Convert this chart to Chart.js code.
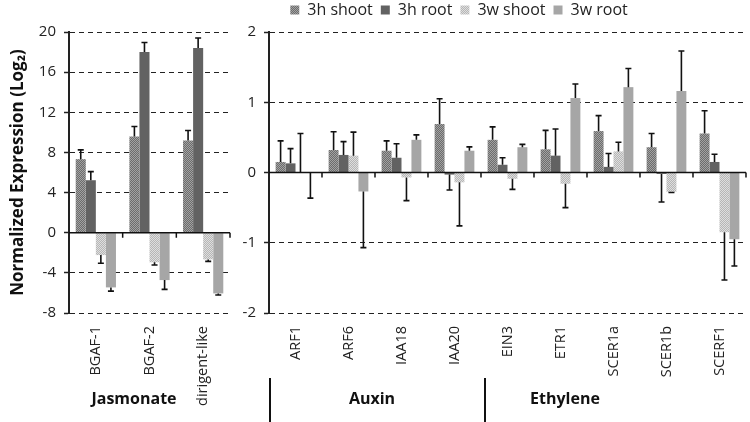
<!DOCTYPE html>
<html><head><meta charset="utf-8">
<script src="https://cdn.jsdelivr.net/npm/chart.js@4"></script>
<style>
html,body{margin:0;padding:0;background:#fff;}
#wrap{position:relative;width:750px;height:422px;overflow:hidden;font-family:'Open Sans',sans-serif;}
canvas{position:absolute;top:0;}
#cL{left:0;}
#cR{left:170px;}
.grp{position:absolute;top:398px;transform:translate(-50%,-50%);font:bold 16px 'Open Sans',sans-serif;color:#111;white-space:nowrap;}
.sep{position:absolute;width:1.5px;background:#111;top:378px;height:44px;}
</style>
</head><body>
<div id="wrap">
<canvas id="cL" width="250" height="422"></canvas>
<canvas id="cR" width="580" height="422"></canvas>
<div class="grp" style="left:134px">Jasmonate</div>
<div class="grp" style="left:372px">Auxin</div>
<div class="grp" style="left:565px">Ethylene</div>
<div class="sep" style="left:269px"></div>
<div class="sep" style="left:484px"></div>
</div>
<script>
// ---- data ----
const seriesNames = ['3h shoot', '3h root', '3w shoot', '3w root'];
const groupNames = ['Jasmonate', 'Auxin', 'Ethylene'];

const jasCats = ['BGAF-1', 'BGAF-2', 'dirigent-like'];
const jas3hShoot = [7.33, 9.58, 9.18];
const jas3hRoot  = [5.23, 18.0, 18.4];
const jas3wShoot = [-2.23, -2.95, -2.66];
const jas3wRoot  = [-5.45, -4.72, -6.05];
const jasErr3hShoot = [0.92, 1.0, 1.0];
const jasErr3hRoot  = [0.86, 0.96, 1.0];
const jasErr3wShoot = [0.82, 0.27, 0.2];
const jasErr3wRoot  = [0.37, 0.93, 0.15];
const jasTicks = [-8, -4, 0, 4, 8, 12, 16, 20];

const hormCats = ['ARF1', 'ARF6', 'IAA18', 'IAA20', 'EIN3', 'ETR1', 'SCER1a', 'SCER1b', 'SCERF1'];
const horm3hShoot = [0.15, 0.32, 0.31, 0.69, 0.465, 0.33, 0.59, 0.36, 0.555];
const horm3hRoot  = [0.13, 0.25, 0.21, -0.03, 0.11, 0.24, 0.08, -0.02, 0.15];
const horm3wShoot = [0.005, 0.24, -0.07, -0.14, -0.09, -0.16, 0.30, -0.275, -0.85];
const horm3wRoot  = [-0.005, -0.27, 0.465, 0.31, 0.36, 1.06, 1.215, 1.16, -0.95];
const hormErr3hShoot = [0.30, 0.26, 0.14, 0.36, 0.185, 0.27, 0.22, 0.195, 0.325];
const hormErr3hRoot  = [0.21, 0.19, 0.20, 0.22, 0.10, 0.38, 0.19, 0.40, 0.11];
const hormErr3wShoot = [0.55, 0.335, 0.33, 0.62, 0.15, 0.34, 0.13, 0.01, 0.68];
const hormErr3wRoot  = [0.36, 0.80, 0.07, 0.055, 0.04, 0.20, 0.265, 0.57, 0.38];
const hormTicks = [-2, -1, 0, 1, 2];

// ---- styles ----
function pat(c1, c2) {
  const c = document.createElement('canvas'); c.width = c.height = 2;
  const x = c.getContext('2d');
  x.fillStyle = c1; x.fillRect(0, 0, 2, 2);
  x.fillStyle = c2; x.fillRect(0, 0, 1, 1); x.fillRect(1, 1, 1, 1);
  return x.createPattern(c, 'repeat');
}
const fills = [pat('#6c6c6c', '#a2a2a2'), '#626262', pat('#b6b6b6', '#dedede'), '#a6a6a6'];
const FONT = "'Open Sans', sans-serif";

const extras = {
  id: 'extras',
  beforeLayout(chart, args, opts) {
    const lg = chart.legend;
    if (opts.legendHeight && lg && !lg._patched) {
      const f = lg.fit.bind(lg);
      lg.fit = function () { f(); this.height = opts.legendHeight; };
      lg._patched = true;
    }
  },
  afterDatasetsDraw(chart, args, opts) {
    const ctx = chart.ctx, y = chart.scales.y;
    const ca = chart.chartArea;
    const y0 = y.getPixelForValue(0);
    ctx.save();
    ctx.strokeStyle = '#111'; ctx.lineWidth = 1.5; ctx.setLineDash([]);
    ctx.beginPath(); ctx.moveTo(ca.left, y0); ctx.lineTo(ca.right, y0); ctx.stroke();
    const n = chart.data.labels.length;
    const w = (ca.right - ca.left) / n;
    ctx.beginPath();
    for (let i = 1; i <= n; i++) { const xx = ca.left + i * w; ctx.moveTo(xx, y0); ctx.lineTo(xx, y0 + 5); }
    ctx.stroke();
    ctx.lineWidth = 1.6;
    chart.data.datasets.forEach((ds, di) => {
      const meta = chart.getDatasetMeta(di);
      meta.data.forEach((el, i) => {
        const v = ds.data[i], e = opts.errors[di][i];
        const end = v >= 0 ? v + e : v - e;
        const yv = y.getPixelForValue(v), ye = y.getPixelForValue(end);
        ctx.beginPath();
        ctx.moveTo(el.x, yv); ctx.lineTo(el.x, ye);
        ctx.moveTo(el.x - 3, ye); ctx.lineTo(el.x + 3, ye);
        ctx.stroke();
      });
    });
    ctx.restore();
  }
};

function datasets(arrs) {
  return arrs.map((d, i) => ({ label: seriesNames[i], data: d, backgroundColor: fills[i], borderWidth: 0,
    categoryPercentage: 0.75, barPercentage: 1 }));
}

function yScale(min, max, tickVals, width, titleOn) {
  return {
    min, max,
    afterBuildTicks: s => { s.ticks = tickVals.map(v => ({ value: v })); },
    afterFit: s => { s.width = width; },
    ticks: { font: { family: FONT, size: 15 }, color: '#222', padding: 8 },
    grid: { color: '#222', lineWidth: 1, drawTicks: true, tickLength: 5, tickColor: '#222', tickBorderDash: [], tickWidth: 1.5 },
    border: { display: true, color: '#222', width: 2, dash: [5, 4] },
    title: titleOn ? { display: true, text: 'Normalized Expression (Log₂)', font: { family: FONT, size: 17, weight: 'bold' }, color: '#111', padding: { top: 8, bottom: 0 } } : { display: false }
  };
}
function xScale() {
  return {
    afterFit: s => { s.height = 109; },
    grid: { display: false, drawTicks: false },
    border: { display: false },
    ticks: { font: { family: FONT, size: 14.5 }, color: '#222', maxRotation: 90, minRotation: 90, padding: 13, autoSkip: false }
  };
}

new Chart(document.getElementById('cL'), {
  type: 'bar',
  data: { labels: jasCats, datasets: datasets([jas3hShoot, jas3hRoot, jas3wShoot, jas3wRoot]) },
  options: {
    responsive: false, animation: false,
    layout: { padding: { top: 32, right: 20, left: 0, bottom: 0 } },
    scales: { x: xScale(), y: yScale(-8, 20, jasTicks, 69, true) },
    plugins: { legend: { display: false }, tooltip: { enabled: false },
      extras: { errors: [jasErr3hShoot, jasErr3hRoot, jasErr3wShoot, jasErr3wRoot] } }
  },
  plugins: [extras]
});

new Chart(document.getElementById('cR'), {
  type: 'bar',
  data: { labels: hormCats, datasets: datasets([horm3hShoot, horm3hRoot, horm3wShoot, horm3wRoot]) },
  options: {
    responsive: false, animation: false,
    layout: { padding: { top: -6, right: 2, left: 0, bottom: 0 } },
    scales: { x: xScale(), y: yScale(-2, 2, hormTicks, 99, false) },
    plugins: {
      legend: { display: true, position: 'top', align: 'center',
        labels: { boxWidth: 9, boxHeight: 9, padding: 8, color: '#222', font: { family: FONT, size: 16 } } },
      tooltip: { enabled: false },
      extras: { legendHeight: 38, errors: [hormErr3hShoot, hormErr3hRoot, hormErr3wShoot, hormErr3wRoot] }
    }
  },
  plugins: [extras]
});
</script>
</body></html>
